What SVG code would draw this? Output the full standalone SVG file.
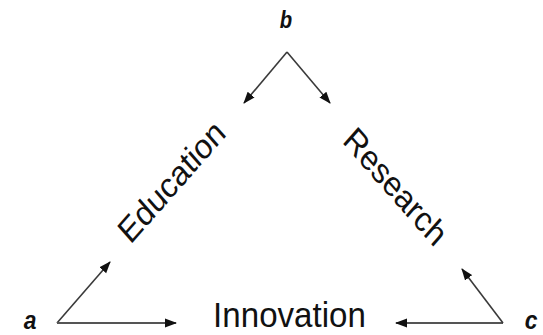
<svg xmlns="http://www.w3.org/2000/svg" width="543" height="335" viewBox="0 0 543 335">
  <style>
    .lbl { font-family: "Liberation Sans", Arial, sans-serif; font-weight: bold; font-style: italic; fill: #111; }
    .big { font-family: "Liberation Sans", Arial, sans-serif; fill: #111; }
    .conn { stroke: #3a3a3a; stroke-width: 1.6; fill: none; marker-end: url(#arr); }
    .h { stroke: #555; stroke-width: 2.2; }
  </style>
  <defs>
    <marker id="arr" markerUnits="userSpaceOnUse" markerWidth="12" markerHeight="10" refX="11" refY="4.5" orient="auto" viewBox="0 0 12 9">
      <path d="M0,0 L12,4.5 L0,9 z" fill="#111"/>
    </marker>
  </defs>
  <rect width="543" height="335" fill="#ffffff"/>
  <g id="connectors">
    <line class="conn" x1="287" y1="52" x2="244" y2="103"/>
    <line class="conn" x1="287" y1="52" x2="330" y2="103"/>
    <line class="conn" x1="57" y1="323" x2="110" y2="262"/>
    <line class="conn h" x1="57" y1="323" x2="176" y2="323"/>
    <line class="conn h" x1="503" y1="323" x2="396" y2="323"/>
    <line class="conn" x1="503" y1="323" x2="462" y2="269"/>
  </g>
  <g id="node-b">
    <text class="lbl" font-size="23" text-anchor="middle" transform="translate(286,28) scale(0.88,1)">b</text>
  </g>
  <g id="node-a">
    <text class="lbl" font-size="26" text-anchor="middle" transform="translate(30,329) scale(0.88,1)">a</text>
  </g>
  <g id="node-c">
    <text class="lbl" font-size="26" text-anchor="middle" transform="translate(531,329) scale(0.88,1)">c</text>
  </g>
  <g id="node-education">
    <text class="big" font-size="35" text-anchor="middle" transform="translate(179,190) scale(0.88,1) rotate(-45)">Education</text>
  </g>
  <g id="node-research">
    <text class="big" font-size="35" text-anchor="middle" transform="translate(388,195) scale(0.88,1) rotate(45)">Research</text>
  </g>
  <g id="node-innovation">
    <text class="big" font-size="36" text-anchor="middle" transform="translate(289.5,327) scale(0.92,1)">Innovation</text>
  </g>
</svg>
